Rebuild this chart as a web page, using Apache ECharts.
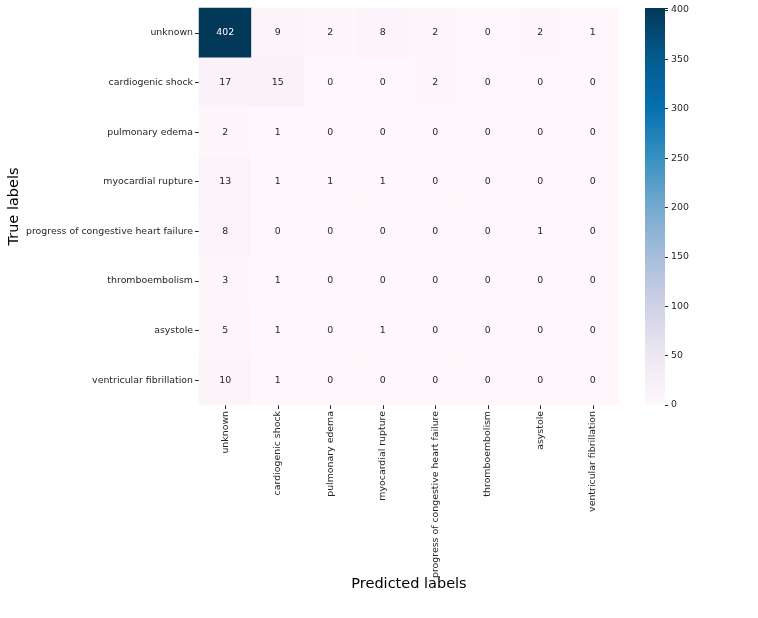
<!DOCTYPE html>
<html>
<head>
<meta charset="utf-8">
<script src="https://cdn.jsdelivr.net/npm/echarts@6/dist/echarts.min.js"></script>
<style>
  html, body { margin: 0; padding: 0; background: #fff; }
  #chart { width: 758px; height: 618px; }
</style>
</head>
<body>
<div id="chart"></div>
<script>
/* ---------- data ---------- */
const classes = [
    "unknown", "cardiogenic shock", "pulmonary edema", "myocardial rupture",
    "progress of congestive heart failure", "thromboembolism", "asystole",
    "ventricular fibrillation"
];
// rows = true labels, columns = predicted labels
const matrix = [
    [402, 9, 2, 8, 2, 0, 2, 1],
    [17, 15, 0, 0, 2, 0, 0, 0],
    [2, 1, 0, 0, 0, 0, 0, 0],
    [13, 1, 1, 1, 0, 0, 0, 0],
    [8, 0, 0, 0, 0, 0, 1, 0],
    [3, 1, 0, 0, 0, 0, 0, 0],
    [5, 1, 0, 1, 0, 0, 0, 0],
    [10, 1, 0, 0, 0, 0, 0, 0]
];
const colorTicks = [0, 50, 100, 150, 200, 250, 300, 350, 400];
const PuBu = ["#fff7fb", "#ece7f2", "#d0d1e6", "#a6bddb", "#74a9cf",
              "#3690c0", "#0570b0", "#045a8d", "#023858"];

const FONT = "DejaVu Sans";
const TXT = "#262626";
const FS = 9.4;
const vmax = Math.max(...matrix.flat());

/* ---------- heatmap cells ---------- */
const cells = [];
matrix.forEach((row, i) => {
    row.forEach((v, j) => {
        cells.push({
            value: [j, i, v],
            label: { color: v > vmax * 0.6 ? "#ffffff" : TXT }
        });
    });
});

// colorbar gradient (bottom = 0, top = max)
const barStops = PuBu.map((c, i) => ({ offset: 1 - i / (PuBu.length - 1), color: c }));

const chart = echarts.init(document.getElementById("chart"), null, { renderer: "canvas" });

chart.setOption({
    animation: false,
    backgroundColor: "#ffffff",
    textStyle: { fontFamily: FONT },
    grid: [
        { left: 199, top: 8, width: 420, height: 397, outerBoundsMode: "none", containLabel: false },
        { left: 645, top: 8, width: 20, height: 397, outerBoundsMode: "none", containLabel: false }
    ],
    xAxis: [{
        type: "category",
        gridIndex: 0,
        data: classes,
        position: "bottom",
        axisLine: { show: false },
        axisTick: { show: true, alignWithLabel: true, length: 4, lineStyle: { color: TXT } },
        axisLabel: { rotate: 90, interval: 0, margin: 6, fontSize: FS, color: TXT, fontFamily: FONT },
        name: "Predicted labels",
        nameLocation: "middle",
        nameGap: 172,
        nameMoveOverlap: false,
        nameTextStyle: { fontSize: 14.5, color: "#000", fontFamily: FONT }
    }, {
        type: "value",
        gridIndex: 1,
        min: 0,
        max: 1,
        show: false
    }],
    yAxis: [{
        type: "category",
        gridIndex: 0,
        data: classes,
        inverse: true,
        axisLine: { show: false },
        axisTick: { show: true, alignWithLabel: true, length: 4, lineStyle: { color: TXT } },
        axisLabel: { interval: 0, margin: 6, fontSize: FS, color: TXT, fontFamily: FONT },
        name: "True labels",
        nameLocation: "middle",
        nameGap: 177,
        nameRotate: 90,
        nameMoveOverlap: false,
        nameTextStyle: { fontSize: 14.5, color: "#000", fontFamily: FONT }
    }, {
        type: "value",
        gridIndex: 1,
        position: "right",
        min: 0,
        max: vmax,
        interval: 50,
        axisLine: { show: false, onZero: false },
        splitLine: { show: false },
        axisTick: { show: true, length: 3, lineStyle: { color: TXT } },
        axisLabel: {
            margin: 6, fontSize: FS, color: TXT, fontFamily: FONT,
            formatter: (v) => colorTicks.includes(v) ? String(v) : ""
        }
    }],
    visualMap: {
        type: "continuous",
        seriesIndex: 0,
        min: 0,
        max: vmax,
        show: false,
        inRange: { color: PuBu }
    },
    graphic: [{
        type: "rect",
        left: 645,
        top: 8,
        shape: { width: 20, height: 397 },
        style: {
            fill: { type: "linear", x: 0, y: 0, x2: 0, y2: 1, colorStops: barStops }
        },
        silent: true,
        z: -1
    }],
    series: [{
        type: "heatmap",
        xAxisIndex: 0,
        yAxisIndex: 0,
        data: cells,
        label: { show: true, fontSize: FS, fontFamily: FONT, formatter: (p) => p.value[2] },
        itemStyle: { borderWidth: 0 },
        emphasis: { disabled: true }
    }]
});
</script>
</body>
</html>
